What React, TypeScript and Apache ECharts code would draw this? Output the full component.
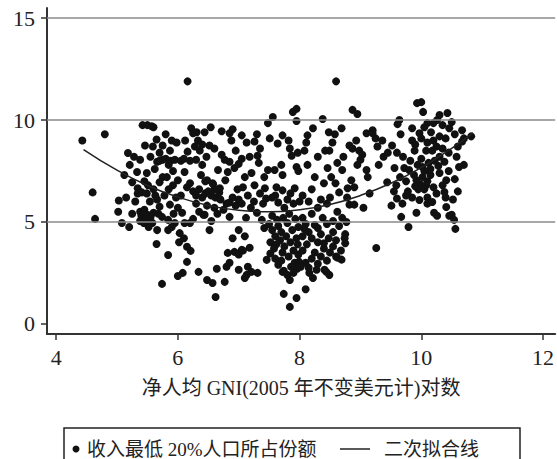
import React, { useEffect, useRef } from "react";
import * as echarts from "echarts";

const xTicks = [4, 6, 8, 10, 12];
const yTicks = [0, 5, 10, 15];
const gridValues = [5, 10, 15];

const scatterName = "收入最低 20%人口所占份额";
const fitName = "二次拟合线";
const xTitle = "净人均 GNI(2005 年不变美元计)对数";

// [log GNI per capita, share of bottom 20%]
const scatterPoints: [number, number][] = [
  [4.43, 9.0], [4.8, 9.3], [4.6, 6.45], [4.64, 5.15],
  [5.03, 6.05], [5.02, 5.5], [5.08, 4.95], [5.2, 4.75], [5.18, 8.38], [5.21, 7.8], [5.33, 7.45], [5.25, 6.95],
  [5.34, 6.65], [5.38, 8.05], [5.46, 8.75], [5.42, 9.75], [5.5, 9.75], [5.6, 9.65], [5.41, 6.45], [5.34, 6.4],
  [5.49, 6.4], [5.49, 7.4], [5.51, 6.8], [5.38, 5.5], [5.4, 5.3], [5.42, 5.1], [5.45, 5.6], [5.48, 5.0],
  [5.5, 5.35], [5.38, 5.05], [5.44, 4.95], [5.3, 6.0], [5.12, 7.3], [5.15, 6.2], [5.28, 8.2], [5.45, 7.0], [5.25, 5.4],
  [5.54, 6.0], [5.66, 6.1], [5.7, 5.75], [5.87, 5.85], [5.74, 5.25], [5.84, 5.1], [5.95, 4.95], [5.66, 4.6],
  [5.84, 4.6], [5.65, 3.92], [5.84, 3.38], [5.74, 1.96], [5.59, 8.7], [5.7, 8.4], [5.75, 8.75], [5.9, 9.0],
  [5.98, 8.9], [5.87, 8.5], [5.66, 7.95], [5.75, 8.05], [5.8, 8.1], [5.88, 8.0], [5.95, 8.05], [5.75, 7.2],
  [5.82, 7.2], [5.92, 6.8], [5.7, 6.95], [5.6, 6.6], [5.62, 7.6], [5.55, 5.2], [5.58, 4.95], [5.6, 5.45],
  [5.68, 5.4], [5.78, 6.3], [5.85, 6.6], [5.92, 7.5], [5.97, 6.2], [5.55, 8.2], [5.65, 9.05], [5.8, 9.3],
  [5.57, 9.7], [5.93, 5.4], [5.52, 4.75], [5.85, 7.8], [5.7, 8.0], [5.63, 6.3], [5.9, 4.75],
  [6.0, 5.7], [6.07, 5.45], [6.11, 4.95], [6.2, 4.95], [6.03, 4.45], [6.02, 4.0], [6.15, 3.78], [6.21, 3.58],
  [6.15, 3.04], [6.08, 2.5], [6.0, 2.35], [6.34, 2.55], [6.16, 11.9], [6.16, 8.45], [6.28, 8.7], [6.25, 9.35],
  [6.31, 9.4], [6.0, 7.05], [6.11, 7.45], [6.05, 8.0], [6.1, 8.1], [6.2, 8.0], [6.3, 8.05], [6.44, 9.4],
  [6.36, 8.5], [6.4, 7.8], [6.45, 7.0], [6.48, 7.05], [6.25, 6.5], [6.3, 6.3], [6.35, 6.6], [6.4, 6.2],
  [6.45, 6.4], [6.3, 5.9], [6.42, 5.35], [6.15, 6.7], [6.2, 6.9], [6.05, 6.3], [6.38, 7.3], [6.12, 9.0],
  [6.22, 9.6], [6.33, 9.0], [6.4, 8.8], [6.47, 8.2], [6.35, 5.5], [6.25, 5.15], [6.48, 5.8], [6.1, 4.2],
  [6.5, 6.5], [6.55, 6.3], [6.6, 6.6], [6.62, 6.2], [6.68, 6.45], [6.58, 6.85], [6.7, 6.1],
  [6.52, 4.6], [6.9, 4.2], [6.44, 5.35], [6.82, 3.48], [6.93, 3.53], [6.85, 3.0], [6.8, 2.8], [6.64, 2.7],
  [6.48, 2.15], [6.57, 2.0], [6.77, 2.06], [6.62, 1.32], [6.54, 9.65], [6.72, 9.45], [6.85, 9.35], [6.88, 9.0],
  [6.95, 8.5], [6.52, 8.75], [6.6, 8.6], [6.77, 8.05], [6.85, 7.95], [6.93, 7.65], [6.82, 7.45], [6.66, 7.55],
  [6.57, 6.9], [6.69, 6.65], [6.75, 5.6], [6.8, 5.9], [6.9, 6.2], [6.95, 5.8], [6.6, 5.7], [6.65, 5.4],
  [6.55, 5.05], [6.85, 5.25], [6.98, 6.6], [6.78, 7.05], [6.72, 8.3], [6.9, 9.55], [6.85, 5.95],
  [7.0, 4.6], [7.05, 3.63], [7.18, 3.73], [7.0, 2.65], [7.13, 2.4], [7.1, 2.25], [7.21, 2.55], [7.31, 2.5],
  [7.15, 2.8], [7.46, 3.14], [7.0, 3.4], [7.07, 3.6], [7.05, 9.25], [7.13, 8.9], [7.26, 8.95], [7.05, 8.1],
  [7.18, 8.2], [7.31, 8.25], [7.33, 7.9], [7.21, 7.4], [7.26, 6.8], [7.07, 6.7], [7.43, 6.65], [7.48, 7.55],
  [7.48, 9.85], [7.3, 9.3], [7.1, 7.2], [7.15, 6.3], [7.25, 6.0], [7.35, 6.4], [7.4, 5.9], [7.45, 6.15],
  [7.2, 5.7], [7.05, 5.9], [7.3, 5.45], [7.12, 5.2], [7.38, 5.1], [7.42, 4.7], [7.1, 4.3], [7.35, 8.6],
  [7.42, 7.2], [7.0, 7.85], [7.0, 6.1],
  [7.56, 10.15], [7.89, 10.4], [7.95, 10.55], [7.95, 9.95], [7.51, 9.1], [7.64, 8.85], [7.72, 9.25], [7.82, 9.0],
  [7.84, 8.6], [7.87, 8.25], [7.97, 8.4], [7.95, 7.7], [7.98, 7.5], [7.59, 7.55], [7.7, 7.8], [7.72, 7.3],
  [7.62, 6.7], [7.72, 6.55], [7.92, 6.65], [7.55, 6.2], [7.65, 5.95], [7.8, 6.1], [7.9, 5.9], [7.75, 5.7],
  [7.6, 6.3], [7.85, 6.4],
  [7.5, 4.9], [7.55, 4.6], [7.6, 4.3], [7.52, 4.0], [7.58, 3.7], [7.65, 4.8], [7.7, 4.5], [7.68, 4.1],
  [7.75, 3.8], [7.72, 3.5], [7.8, 4.95], [7.78, 4.3], [7.85, 4.0], [7.82, 3.3], [7.9, 3.6], [7.88, 4.6],
  [7.95, 4.2], [7.97, 3.9], [7.92, 3.0], [7.6, 3.2], [7.65, 2.9], [7.74, 2.6], [7.72, 2.55], [7.84, 2.15],
  [7.74, 1.47], [7.84, 0.83], [7.95, 1.27], [7.96, 2.7], [7.86, 2.8], [7.98, 3.4], [7.55, 5.3], [7.63, 5.1],
  [7.73, 5.2], [7.83, 5.4], [7.93, 5.15], [7.98, 4.75], [7.52, 3.45], [7.62, 3.9], [7.8, 2.4], [7.9, 2.5],
  [7.7, 3.1], [7.99, 3.05],
  [8.38, 10.05], [8.48, 9.4], [8.13, 9.25], [8.11, 8.9], [8.08, 8.5], [8.13, 7.8], [8.25, 7.2], [8.46, 7.65],
  [8.3, 8.2], [8.2, 6.6], [8.4, 6.9], [8.05, 6.3], [8.35, 6.1], [8.45, 5.9], [8.22, 9.6], [8.42, 8.5],
  [8.15, 6.0], [8.0, 6.0], [8.3, 5.7],
  [8.1, 1.7], [8.22, 2.25], [8.16, 2.5], [8.28, 2.65], [8.44, 2.55], [8.41, 2.65], [8.49, 2.4], [8.05, 5.2],
  [8.1, 4.9], [8.15, 4.5], [8.05, 4.3], [8.2, 4.2], [8.12, 3.9], [8.05, 3.6], [8.25, 3.5], [8.2, 3.2],
  [8.1, 3.0], [8.3, 4.7], [8.35, 4.4], [8.3, 4.0], [8.4, 3.7], [8.35, 3.3], [8.3, 2.95], [8.45, 4.9],
  [8.48, 4.2], [8.45, 3.1], [8.5, 3.5], [8.2, 5.4], [8.38, 5.2], [8.02, 2.8], [8.15, 2.75], [8.25, 4.85],
  [8.08, 4.65], [8.4, 3.95],
  [8.6, 11.9], [8.54, 8.9], [8.49, 8.5], [8.52, 7.2], [8.59, 6.9], [8.87, 10.5], [8.95, 10.3], [8.69, 9.6],
  [8.93, 9.0], [8.82, 8.75], [8.87, 8.6], [8.98, 8.5], [8.95, 7.8], [8.7, 7.55], [8.85, 7.05], [8.9, 6.7],
  [8.79, 6.65], [8.62, 5.5], [8.82, 5.85], [8.9, 5.85], [8.55, 4.5], [8.6, 4.1], [8.55, 3.8], [8.65, 4.8],
  [8.7, 5.2], [8.75, 4.4], [8.68, 3.6], [8.6, 3.3], [8.55, 5.05], [8.62, 7.9], [8.72, 8.2], [8.58, 9.3],
  [8.78, 6.2], [8.65, 6.45], [8.5, 6.2], [8.77, 5.0], [8.62, 3.25], [8.69, 3.15], [8.74, 4.2], [8.75, 3.95],
  [9.05, 5.7], [9.26, 3.72], [9.2, 9.5], [9.2, 9.35], [9.1, 9.35], [9.36, 9.0], [9.28, 8.7], [9.03, 8.3],
  [9.0, 8.05], [9.1, 7.55], [9.12, 7.2], [9.44, 6.95], [9.3, 7.8], [9.38, 8.2], [9.25, 9.1], [9.45, 8.4], [9.15, 6.4],
  [9.51, 5.8], [9.67, 5.25], [9.79, 4.75], [9.92, 5.45], [9.6, 6.15], [9.69, 5.9], [9.75, 6.3], [9.97, 6.08],
  [9.64, 10.0], [9.61, 9.8], [9.52, 8.75], [9.56, 7.65], [9.59, 6.8], [9.72, 7.65], [9.85, 9.0], [9.89, 8.5],
  [9.8, 7.55], [9.92, 7.05], [9.85, 9.6], [9.97, 9.35], [9.93, 10.83], [9.95, 6.6], [9.98, 6.85], [9.9, 6.75],
  [9.88, 7.3], [9.75, 7.0], [9.65, 7.2], [9.7, 8.2], [9.82, 8.0], [9.6, 8.4], [9.78, 6.5], [9.55, 6.5],
  [9.85, 6.2], [9.94, 7.8], [9.9, 8.8], [9.66, 9.3],
  [10.0, 10.88], [10.03, 10.4], [10.43, 10.35], [10.3, 10.25], [10.26, 10.0], [10.5, 9.9], [10.46, 9.6], [10.35, 9.75],
  [10.2, 9.85], [10.1, 9.85], [10.05, 9.65], [10.16, 9.4], [10.0, 9.1], [10.1, 8.9], [10.2, 9.0], [10.3, 9.2],
  [10.4, 9.1], [10.25, 8.7], [10.18, 8.5], [10.3, 8.2], [10.08, 8.5], [10.0, 8.1], [10.02, 7.7], [10.12, 7.9],
  [10.22, 8.0], [10.35, 8.6], [10.45, 8.4], [10.3, 7.4], [10.41, 7.05], [10.05, 6.6], [10.1, 7.0], [10.08, 6.8],
  [10.02, 7.2], [10.15, 7.3], [10.2, 6.7], [10.25, 6.4], [10.1, 6.2], [10.35, 6.8], [10.4, 6.2], [10.1, 5.9],
  [10.18, 5.98], [10.21, 5.45], [10.26, 5.3], [10.38, 6.47], [10.41, 5.73], [10.46, 5.3], [10.5, 5.35], [10.05, 7.5],
  [10.15, 7.6], [10.28, 7.75], [10.38, 7.95], [10.45, 7.5],
  [10.54, 5.1], [10.56, 4.66], [10.62, 7.7], [10.7, 7.8], [10.82, 9.2], [10.67, 8.95], [10.67, 9.5], [10.55, 9.3],
  [10.6, 8.7], [10.58, 8.2], [10.7, 9.1], [10.52, 6.1], [10.6, 6.5], [10.55, 7.1],
];

// quadratic fit line
const fitX = [4.45, 5, 5.5, 6, 6.5, 7, 7.5, 8, 8.5, 9, 9.5, 10, 10.5, 10.85];
const fitY = [8.55, 7.54, 6.79, 6.22, 5.81, 5.57, 5.5, 5.6, 5.86, 6.3, 6.9, 7.67, 8.61, 9.37];

const serif = "'Liberation Serif', 'Noto Sans CJK SC', serif";
const mixed = "'Liberation Serif', 'Noto Sans CJK SC', sans-serif";

export default function App() {
  const ref = useRef<HTMLDivElement>(null);
  useEffect(() => {
    document.body.style.margin = "0";
    const chart = echarts.init(ref.current!, undefined, { renderer: "svg" });
    chart.setOption({
      animation: false,
      backgroundColor: "#fff",
      grid: { left: 47, right: 1, top: 8, bottom: 125, containLabel: false },
      xAxis: {
        type: "value",
        min: 3.85,
        max: 12.2,
        name: xTitle,
        nameLocation: "middle",
        nameGap: 44,
        nameTextStyle: { fontFamily: mixed, fontSize: 20, color: "#222" },
        axisLine: { show: true, onZero: false, lineStyle: { color: "#333", width: 2 } },
        axisTick: { show: true, customValues: xTicks, length: 6, lineStyle: { color: "#333", width: 1.5 } },
        axisLabel: { customValues: xTicks, fontFamily: serif, fontSize: 22, color: "#222", margin: 12 },
        splitLine: { show: false },
      },
      yAxis: {
        type: "value",
        min: -0.5,
        max: 15.5,
        axisLine: { show: true, onZero: false, lineStyle: { color: "#333", width: 2 } },
        axisTick: { show: true, customValues: yTicks, length: 6, lineStyle: { color: "#333", width: 1.5 } },
        axisLabel: { customValues: yTicks, fontFamily: serif, fontSize: 22, color: "#222", margin: 12 },
        splitLine: { show: false },
      },
      series: [
        {
          type: "line",
          data: [],
          z: 1,
          silent: true,
          markLine: {
            silent: true,
            symbol: "none",
            label: { show: false },
            lineStyle: { color: "#8a8a8a", type: "solid", width: 1.5 },
            data: gridValues.map((v) => ({ yAxis: v })),
          },
        },
        {
          name: scatterName,
          type: "scatter",
          z: 3,
          symbol: "circle",
          symbolSize: 8,
          itemStyle: { color: "#111", opacity: 1 },
          data: scatterPoints,
        },
        {
          name: fitName,
          type: "line",
          z: 4,
          smooth: true,
          symbol: "none",
          lineStyle: { color: "#222", width: 1.5 },
          data: fitX.map((x, i) => [x, fitY[i]]),
        },
      ],
      graphic: [
        {
          type: "rect",
          shape: { x: 64, y: 428, width: 456, height: 50 },
          style: { fill: "none", stroke: "#222", lineWidth: 1.5 },
        },
        { type: "circle", shape: { cx: 76, cy: 449, r: 3.5 }, style: { fill: "#111" } },
        {
          type: "text",
          x: 87,
          y: 449,
          style: { text: scatterName, fontFamily: mixed, fontSize: 19, fill: "#222", verticalAlign: "middle" },
        },
        {
          type: "line",
          shape: { x1: 340, y1: 449, x2: 370, y2: 449 },
          style: { stroke: "#222", lineWidth: 1.5 },
        },
        {
          type: "text",
          x: 384,
          y: 449,
          style: { text: fitName, fontFamily: mixed, fontSize: 19, fill: "#222", verticalAlign: "middle" },
        },
      ],
    });
    return () => chart.dispose();
  }, []);
  return <div ref={ref} style={{ position: "fixed", left: 0, top: 0, width: 557, height: 459 }} />;
}
